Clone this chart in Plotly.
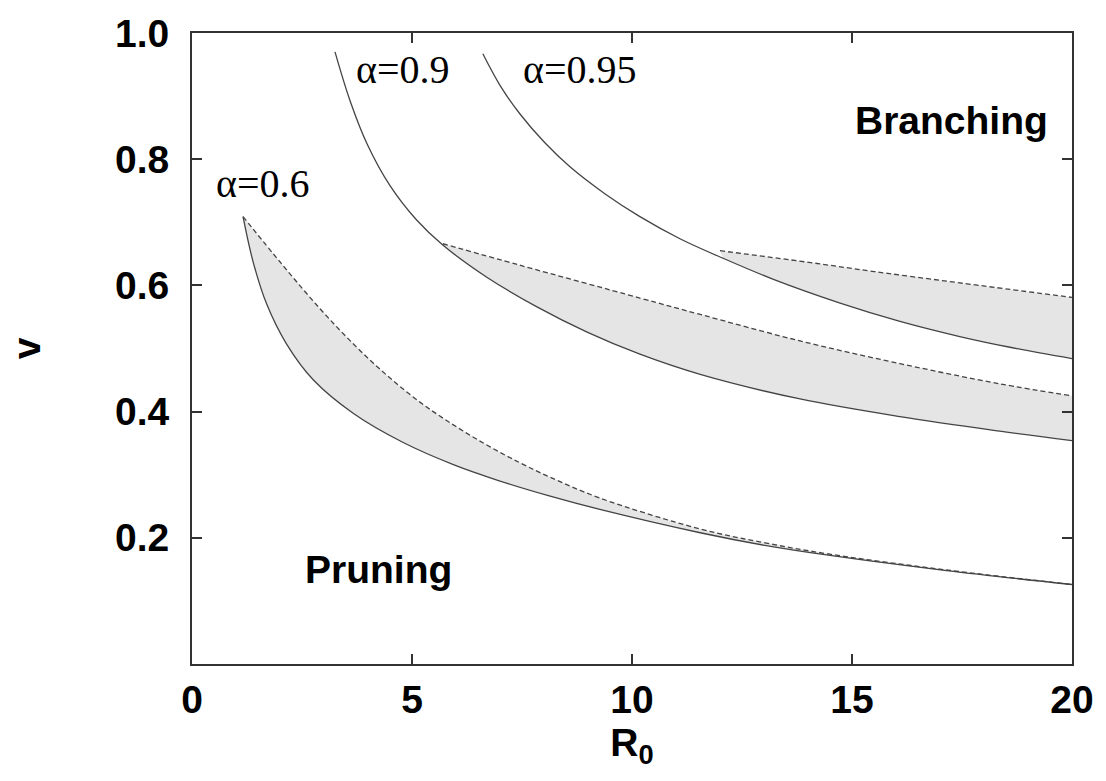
import plotly.graph_objects as go

# ---- data ----
a06_solid_x = [1.16, 1.39, 1.70, 2.15, 2.76, 3.67, 4.80, 5.94, 7.00, 8.14, 9.27, 11.55, 13.02, 14.50, 17.15, 20.0]
a06_solid_v = [0.709, 0.637, 0.570, 0.507, 0.450, 0.397, 0.351, 0.316, 0.290, 0.266, 0.245, 0.208, 0.188, 0.172, 0.148, 0.126]
a06_dash_x = [1.16, 2.05, 2.91, 3.67, 4.42, 5.18, 5.94, 6.70, 7.45, 8.14, 9.27, 11.55, 13.02, 14.50, 17.15, 20.0]
a06_dash_v = [0.709, 0.633, 0.563, 0.507, 0.458, 0.415, 0.379, 0.347, 0.319, 0.296, 0.263, 0.214, 0.192, 0.174, 0.149, 0.126]

a09_solid_x = [3.25, 3.59, 3.98, 4.50, 5.10, 5.70, 6.70, 7.84, 8.98, 10.18, 11.55, 13.82, 16.09, 18.36, 20.0]
a09_solid_v = [0.970, 0.893, 0.824, 0.758, 0.704, 0.664, 0.613, 0.566, 0.526, 0.491, 0.459, 0.420, 0.392, 0.369, 0.354]
a09_dash_x = [5.70, 7.45, 10.18, 11.55, 13.82, 16.09, 18.36, 20.0]
a09_dash_v = [0.666, 0.632, 0.580, 0.554, 0.512, 0.476, 0.444, 0.425]

a095_solid_x = [6.61, 7.00, 7.45, 8.02, 8.59, 9.39, 10.18, 11.09, 12.07, 13.20, 14.73, 16.09, 17.45, 18.59, 20.0]
a095_solid_v = [0.967, 0.917, 0.872, 0.826, 0.788, 0.745, 0.709, 0.674, 0.643, 0.610, 0.572, 0.543, 0.519, 0.502, 0.484]
a095_dash_x = [12.0, 13.97, 15.5, 17.45, 20.0]
a095_dash_v = [0.655, 0.637, 0.622, 0.604, 0.581]

x_ticks = [0, 5, 10, 15, 20]
y_ticks = [0.2, 0.4, 0.6, 0.8, 1.0]
y_ticktext = ["0.2", "0.4", "0.6", "0.8", "1.0"]

labels = ["α=0.6", "α=0.9", "α=0.95"]
label_x = [1.61, 4.80, 8.82]
label_v = [0.761, 0.942, 0.942]
regions = ["Branching", "Pruning"]
region_x = [17.25, 4.23]
region_v = [0.861, 0.150]

LINE = "#444444"
FILL = "#e5e5e5"

fig = go.Figure()

bands = [
    (a06_solid_x, a06_solid_v, a06_dash_x, a06_dash_v),
    (a09_solid_x, a09_solid_v, a09_dash_x, a09_dash_v),
    (a095_solid_x, a095_solid_v, a095_dash_x, a095_dash_v),
]

# shaded bands between solid and dashed curves
for sx, sv, dx, dv in bands:
    start = dx[0]
    bx = [x for x in sx if x >= start - 0.1]
    bv = [v for x, v in zip(sx, sv) if x >= start - 0.1]
    fig.add_trace(go.Scatter(x=bx, y=bv, mode="lines", line=dict(width=0, shape="spline"),
                             hoverinfo="skip", showlegend=False))
    fig.add_trace(go.Scatter(x=dx, y=dv, mode="lines", line=dict(width=0, shape="spline"),
                             fill="tonexty", fillcolor=FILL, hoverinfo="skip", showlegend=False))

# curves
for sx, sv, dx, dv in bands:
    fig.add_trace(go.Scatter(x=sx, y=sv, mode="lines",
                             line=dict(color=LINE, width=1.3, shape="spline"), showlegend=False))
    fig.add_trace(go.Scatter(x=dx, y=dv, mode="lines",
                             line=dict(color=LINE, width=1.3, shape="spline", dash="5px,3px"),
                             showlegend=False))

for t, x, v in zip(labels, label_x, label_v):
    fig.add_annotation(x=x, y=v, text=t, showarrow=False, xanchor="center", yanchor="middle",
                       font=dict(family="Liberation Serif", size=40, color="black"))
for t, x, v in zip(regions, region_x, region_v):
    fig.add_annotation(x=x, y=v, text=t, showarrow=False, xanchor="center", yanchor="middle",
                       font=dict(family="Liberation Sans", size=39, color="black", weight="bold"))

axis_font = dict(family="Liberation Sans", size=39, color="black", weight="bold")
fig.update_xaxes(range=[0, 20], tickvals=x_ticks, ticks="inside", ticklen=10, tickwidth=1.5,
                 tickcolor="#333333", showline=True, linecolor="#333333", linewidth=2,
                 mirror="ticks", showgrid=False, zeroline=False, tickfont=axis_font,
                 title=dict(text="R<sub>0</sub>", font=axis_font, standoff=8))
fig.update_yaxes(range=[0, 1], tickvals=y_ticks, ticktext=y_ticktext, ticks="inside", ticklen=10,
                 tickwidth=1.5, tickcolor="#333333", showline=True, linecolor="#333333", linewidth=2,
                 mirror="ticks", showgrid=False, zeroline=False, tickfont=axis_font,
                 ticklabelstandoff=13,
                 title=dict(text="v", font=axis_font, standoff=62))

fig.update_layout(width=1106, height=781, margin=dict(l=192, r=34, t=25, b=117),
                  plot_bgcolor="white", paper_bgcolor="white")

fig.write_html("out.html")
